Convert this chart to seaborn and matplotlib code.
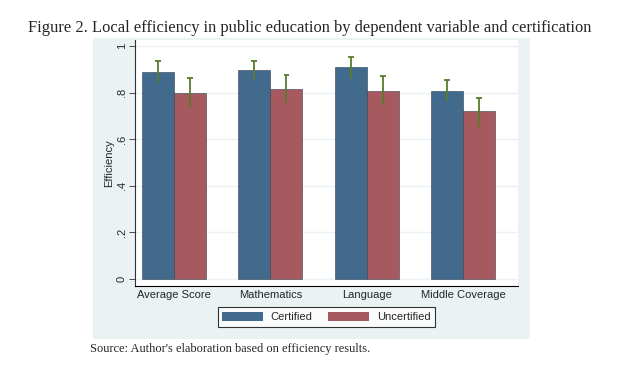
import pandas as pd
import matplotlib.pyplot as plt
import seaborn as sns
from matplotlib.patches import Rectangle

categories = ['Average Score', 'Mathematics', 'Language', 'Middle Coverage']
groups = ['Certified', 'Uncertified']
certified = [0.890, 0.896, 0.909, 0.808]
uncertified = [0.798, 0.814, 0.808, 0.720]
certified_lo = [0.840, 0.854, 0.860, 0.765]
certified_hi = [0.937, 0.937, 0.954, 0.854]
uncertified_lo = [0.734, 0.757, 0.748, 0.654]
uncertified_hi = [0.863, 0.874, 0.871, 0.777]

df = pd.DataFrame({
    'variable': categories * 2,
    'group': [groups[0]] * 4 + [groups[1]] * 4,
    'eff': certified + uncertified,
    'lo': certified_lo + uncertified_lo,
    'hi': certified_hi + uncertified_hi,
})

sns.set_style('white')
plt.rcParams['font.family'] = ['Liberation Sans', 'DejaVu Sans']

fig = plt.figure(figsize=(6.35, 3.69), dpi=100)
fig.patches.append(Rectangle((0.1465, 0.0813), 0.688, 0.816, transform=fig.transFigure,
                             facecolor='#eaf2f3', edgecolor='none', zorder=-5))
ax = fig.add_axes([0.2126, 0.2249, 0.6031, 0.6667])
ax.set_facecolor('white')

palette = {'Certified': '#426a8c', 'Uncertified': '#a65a60'}
sns.barplot(data=df, x='variable', y='eff', hue='group', order=categories, hue_order=groups,
            palette=palette, width=0.667, gap=0, saturation=1, errorbar=None,
            edgecolor='#2f3f4f', linewidth=0.4, ax=ax, legend=True, zorder=2)

# error bars at bar centres
for i, g in enumerate(groups):
    cont = ax.containers[i]
    sub = df[df['group'] == g].set_index('variable').loc[categories]
    xs = [p.get_x() + p.get_width() / 2 for p in cont.patches]
    ax.vlines(xs, sub['lo'], sub['hi'], color='#5b7b2e', lw=1.3, zorder=3)
    ax.hlines(sub['hi'], [x - 0.03 for x in xs], [x + 0.03 for x in xs], color='#5b7b2e', lw=1.3, zorder=3)

ax.set_xlim(-0.405, 3.57)
ax.set_ylim(-0.03, 1.026)
ax.set_yticks([0, 0.2, 0.4, 0.6, 0.8, 1.0])
ax.set_yticklabels(['0', '.2', '.4', '.6', '.8', '1'], rotation=90, va='center', fontsize=8)
ax.tick_params(axis='y', length=4, width=0.6, color='#333333', left=True, pad=2)
ax.tick_params(axis='x', length=0, labelsize=8, pad=3)
ax.grid(axis='y', color='#eaf2f3', lw=1, zorder=0)
ax.set_axisbelow(True)
ax.set_xlabel('')
ax.set_ylabel('Efficiency', fontsize=8, labelpad=2)
sns.despine(ax=ax, top=True, right=True)
ax.spines['left'].set_color('#333333')
ax.spines['left'].set_linewidth(0.8)
ax.spines['bottom'].set_color('black')
ax.spines['bottom'].set_linewidth(0.8)

ax.legend_.remove()
handles = [Rectangle((0, 0), 1, 1, facecolor=palette[g], edgecolor='none') for g in groups]
leg = fig.legend(handles, groups, loc='center', bbox_to_anchor=(0.514, 0.141), ncol=2,
                 fontsize=8, frameon=True, fancybox=False, edgecolor='black',
                 handlelength=3.7, handleheight=0.9, columnspacing=1.4, borderpad=0.4,
                 handletextpad=0.7)
leg.get_frame().set_linewidth(0.8)

fig.text(0.044, 0.912, 'Figure 2. Local efficiency in public education by dependent variable and certification',
         family='Liberation Serif', fontsize=11.9)
fig.text(0.142, 0.045, "Source: Author's elaboration based on efficiency results.",
         family='Liberation Serif', fontsize=8.9)

fig.savefig('out.png', dpi=100)
